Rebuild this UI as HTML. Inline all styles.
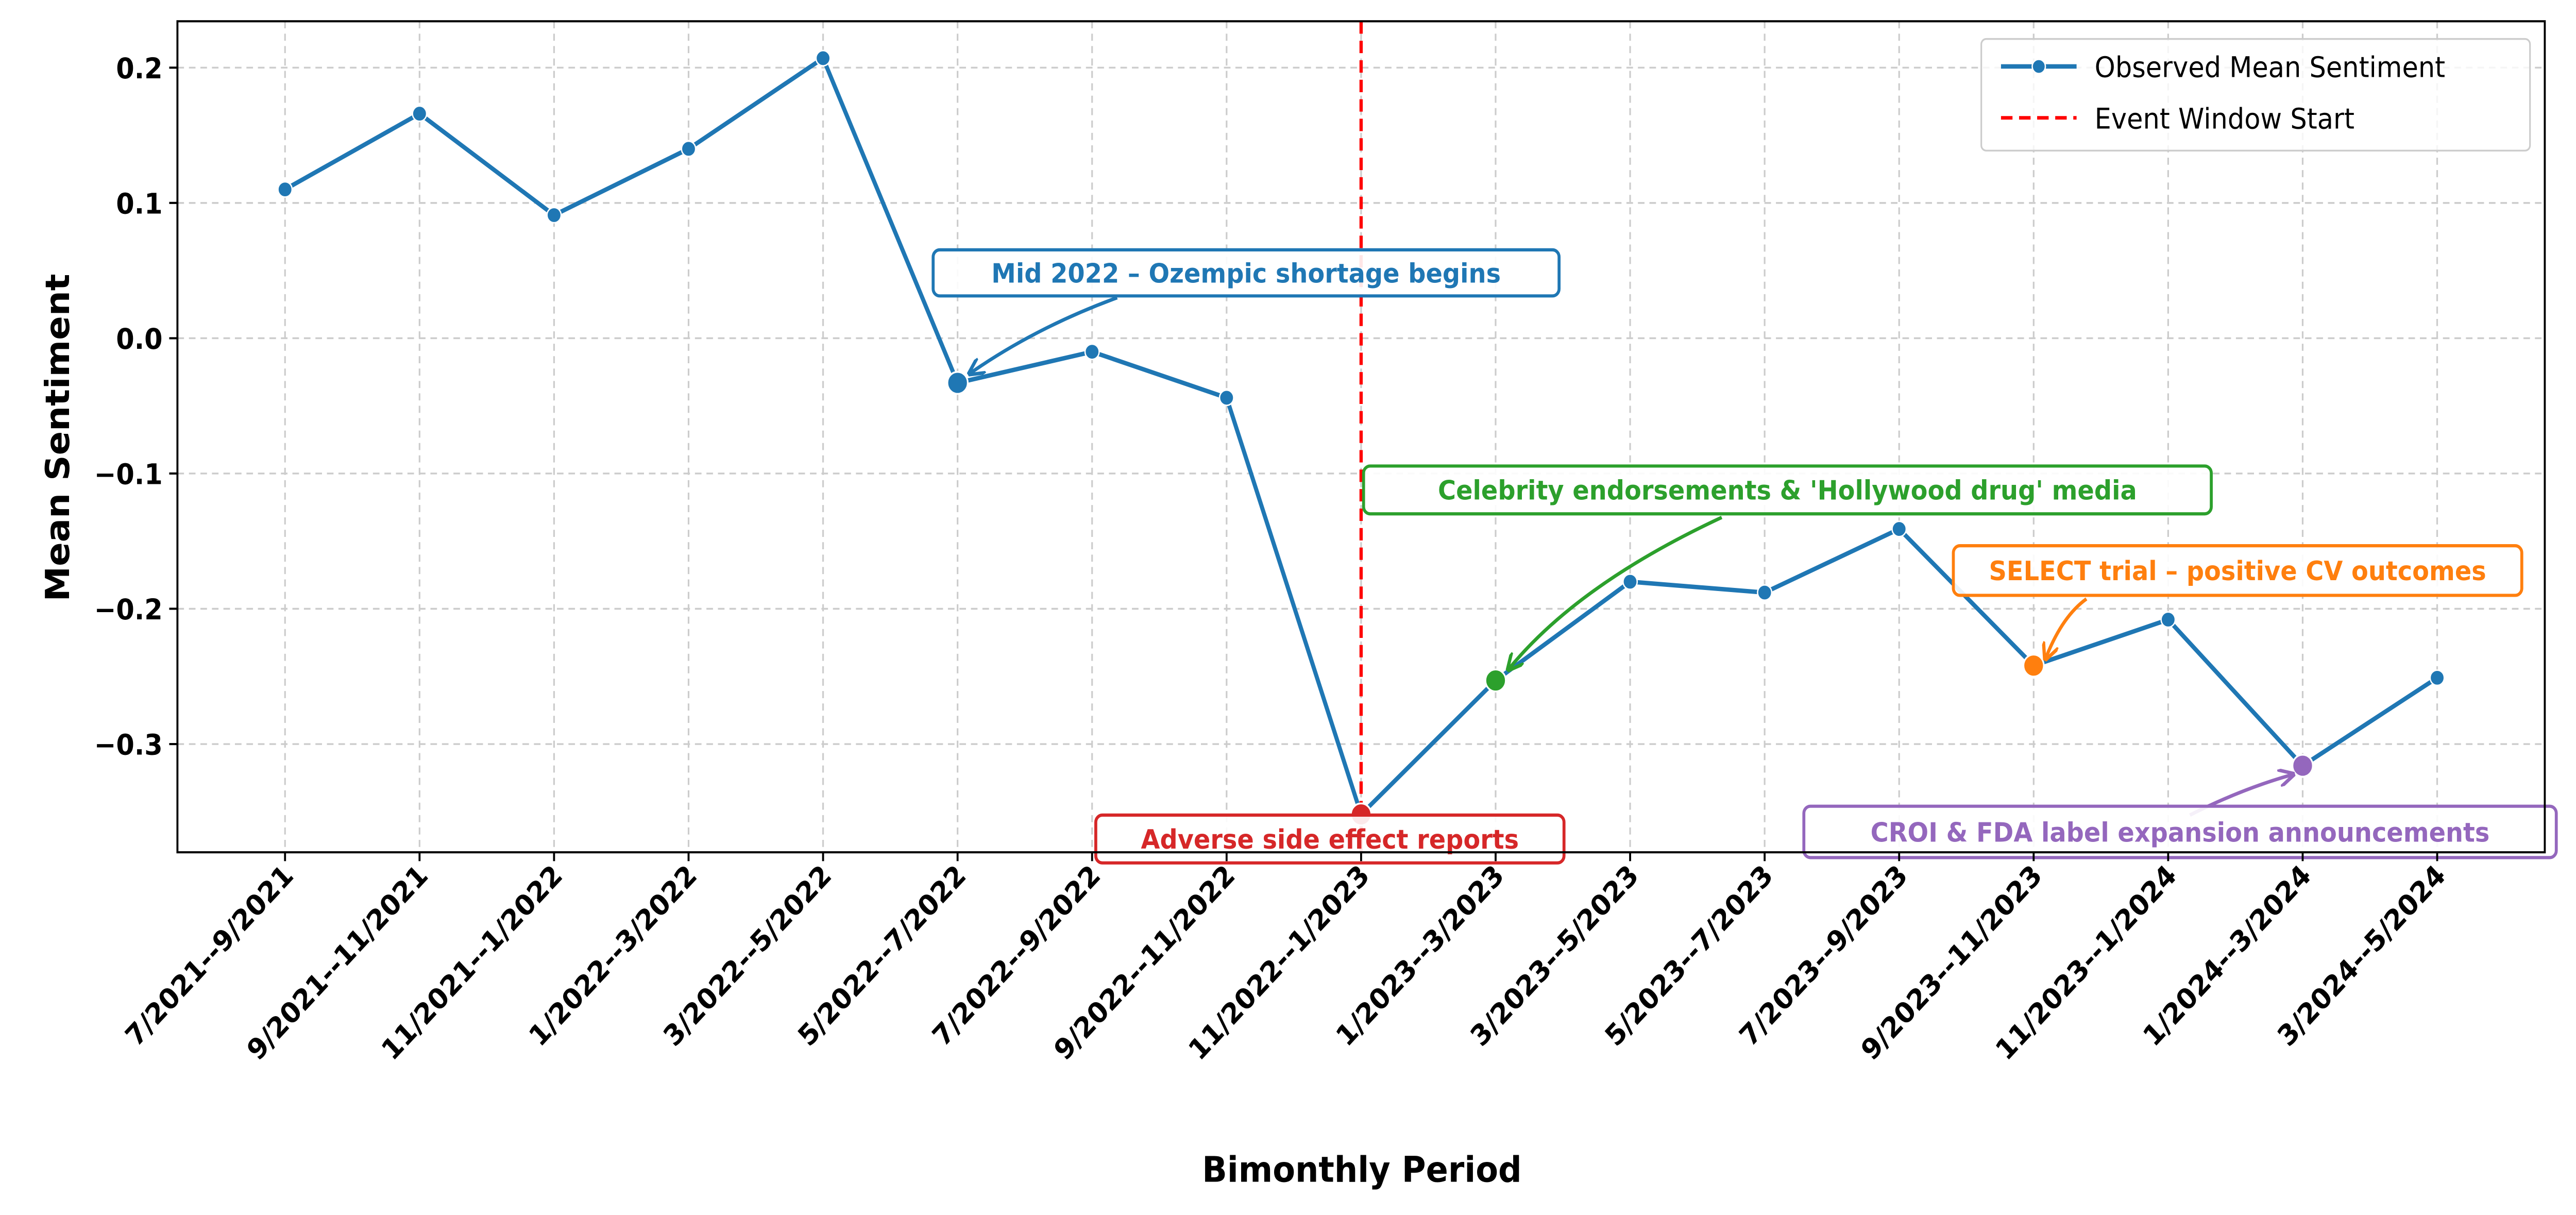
<!DOCTYPE html>
<html><head><meta charset="utf-8"><style>
html,body{margin:0;padding:0;background:#fff;overflow:hidden;width:100vw;height:100vh;}
svg{display:block;position:absolute;left:0;top:0;width:100vw;height:100vh;}
text{font-family:"DejaVu Sans","Liberation Sans",sans-serif;}
</style></head><body>
<svg id="chart" xmlns="http://www.w3.org/2000/svg" viewBox="0 0 1568 685.7" preserveAspectRatio="none">
<defs>
<marker id="ah-blue" viewBox="0 0 10 10" refX="9" refY="5" markerWidth="5" markerHeight="5" orient="auto"><path d="M0,0 L10,5 L0,10" fill="none" stroke="#1f77b4" stroke-width="2"/></marker>
<marker id="ah-green" viewBox="0 0 10 10" refX="9" refY="5" markerWidth="5" markerHeight="5" orient="auto"><path d="M0,0 L10,5 L0,10" fill="none" stroke="#2ca02c" stroke-width="2"/></marker>
<marker id="ah-orange" viewBox="0 0 10 10" refX="9" refY="5" markerWidth="5" markerHeight="5" orient="auto"><path d="M0,0 L10,5 L0,10" fill="none" stroke="#ff7f0e" stroke-width="2"/></marker>
<marker id="ah-purple" viewBox="0 0 10 10" refX="9" refY="5" markerWidth="5" markerHeight="5" orient="auto"><path d="M0,0 L10,5 L0,10" fill="none" stroke="#9467bd" stroke-width="2"/></marker>
</defs>
<g id="grid"></g>
<g id="series"></g>
<g id="annots"></g>
<g id="axes"></g>
<text x="0" y="0" transform="translate(42,247) rotate(-90)" text-anchor="middle" font-size="20" font-weight="bold">Mean Sentiment</text>
<text x="829" y="667" text-anchor="middle" font-size="20" font-weight="bold">Bimonthly Period</text>
<g>
<rect x="1206" y="22" width="334" height="63" rx="3" fill="#fff" fill-opacity="0.8" stroke="#ccc" stroke-width="1"/>
<line x1="1218" y1="37.5" x2="1264" y2="37.5" stroke="#1f77b4" stroke-width="2.5"/>
<circle cx="1241" cy="37.5" r="4" fill="#1f77b4" stroke="#fff" stroke-width="0.8"/>
<text x="1275" y="43.5" font-size="16">Observed Mean Sentiment</text>
<line x1="1218" y1="66.5" x2="1264" y2="66.5" stroke="#ff0000" stroke-width="2" stroke-dasharray="7,4"/>
<text x="1275" y="72.5" font-size="16">Event Window Start</text>
</g>
</svg>
<script>
const categories=["7/2021--9/2021","9/2021--11/2021","11/2021--1/2022","1/2022--3/2022","3/2022--5/2022","5/2022--7/2022","7/2022--9/2022","9/2022--11/2022","11/2022--1/2023","1/2023--3/2023","3/2023--5/2023","5/2023--7/2023","7/2023--9/2023","9/2023--11/2023","11/2023--1/2024","1/2024--3/2024","3/2024--5/2024"];
const values=[0.110,0.166,0.091,0.140,0.207,-0.033,-0.010,-0.044,-0.352,-0.253,-0.180,-0.188,-0.141,-0.242,-0.208,-0.316,-0.251];
const yTicks=[0.2,0.1,0.0,-0.1,-0.2,-0.3];
const yTickLabels=["0.2","0.1","0.0","\u22120.1","\u22120.2","\u22120.3"];
const eventIndex=8;
const highlightIdx=[5,8,9,13,15];
const highlightColors=["#1f77b4","#d62728","#2ca02c","#ff7f0e","#9467bd"];

const NS="http://www.w3.org/2000/svg";
const L=108,R=1549,T=12,B=481;
const xMin=-0.8,xMax=16.8,yMin=-0.380,yMax=0.2343;
function xs(i){return L+(i-xMin)/(xMax-xMin)*(R-L);}
function ys(v){return B-(v-yMin)/(yMax-yMin)*(B-T);}
function mk(tag,attrs,parent){const e=document.createElementNS(NS,tag);for(const k in attrs)e.setAttribute(k,attrs[k]);parent.appendChild(e);return e;}

const grid=document.getElementById('grid');
yTicks.forEach((v,k)=>{
  const g=mk('line',{x1:L,x2:R,y1:ys(v),y2:ys(v),stroke:'#cccccc','stroke-width':1,'stroke-dasharray':'4,3'},grid);
  
  
});
categories.forEach((c,i)=>{
  const g=mk('line',{x1:xs(i),x2:xs(i),y1:T,y2:B,stroke:'#cccccc','stroke-width':1,'stroke-dasharray':'4,3'},grid);
  
  
});
const ev=mk('line',{x1:xs(eventIndex),x2:xs(eventIndex),y1:T,y2:B,stroke:'#ff0000','stroke-width':2,'stroke-dasharray':'7,4'},grid);



const series=document.getElementById('series');
const pl=mk('polyline',{points:values.map((v,i)=>xs(i)+','+ys(v)).join(' '),fill:'none',stroke:'#1f77b4','stroke-width':2.5,'stroke-linejoin':'round'},series);


values.forEach((v,i)=>{
  const p=mk('circle',{cx:xs(i),cy:ys(v),r:4.3,fill:'#1f77b4',stroke:'#fff','stroke-width':0.8},series);
  
  
});
highlightIdx.forEach((idx,k)=>{
  const p=mk('circle',{cx:xs(idx),cy:ys(values[idx]),r:6.2,fill:highlightColors[k],stroke:'#fff','stroke-width':1},series);
  
  
});

const an=document.getElementById('annots');
function annot(name,text,color,bx,by,bw,bh,arrow,marker){
  if(arrow){
    const a=mk('path',{d:arrow,fill:'none',stroke:color,'stroke-width':2,'marker-end':'url(#'+marker+')'},an);
    
    
  }
  const r=mk('rect',{x:bx,y:by,width:bw,height:bh,rx:4,fill:'#fff','fill-opacity':0.9,stroke:color,'stroke-width':1.8},an);
  
  
  const t=mk('text',{x:bx+bw/2,y:by+bh/2+5.5,'text-anchor':'middle','font-size':15,'font-weight':'bold',fill:color},an);
  t.textContent=text;
  
  
}
annot('annotation-shortage','Mid 2022 \u2013 Ozempic shortage begins','#1f77b4',568,141,381,26,'M680,168 Q630,185 590,211','ah-blue');
annot('annotation-celebrity',"Celebrity endorsements & 'Hollywood drug' media",'#2ca02c',830,263,516,27,'M1048,292 Q960,330 918,378','ah-green');
annot('annotation-select','SELECT trial \u2013 positive CV outcomes','#ff7f0e',1189,308,346,28,'M1270,338 Q1255,348 1245,372','ah-orange');
annot('annotation-adverse','Adverse side effect reports','#d62728',667,460,285,27,null,null);
annot('annotation-croi','CROI & FDA label expansion announcements','#9467bd',1098,455,458,29,'M1333,460 Q1365,445 1396,437','ah-purple');

const axes=document.getElementById('axes');
const fr=mk('rect',{x:L,y:T,width:R-L,height:B-T,fill:'none',stroke:'#000','stroke-width':1.2},axes);


yTicks.forEach((v,k)=>{
  mk('line',{x1:L-5,x2:L,y1:ys(v),y2:ys(v),stroke:'#000','stroke-width':1.2},axes);
  const t=mk('text',{x:L-9,y:ys(v)+6,'text-anchor':'end','font-size':16,'font-weight':'bold'},axes);
  t.textContent=yTickLabels[k];
  
  
});
categories.forEach((c,i)=>{
  mk('line',{x1:xs(i),x2:xs(i),y1:B,y2:B+5,stroke:'#000','stroke-width':1.2},axes);
  const t=mk('text',{x:0,y:0,'text-anchor':'end','font-size':16,'font-weight':'bold',transform:'translate('+(xs(i)+6)+','+(B+14)+') rotate(-45)'},axes);
  t.textContent=c;
  
  
});
</script>
</body></html>
